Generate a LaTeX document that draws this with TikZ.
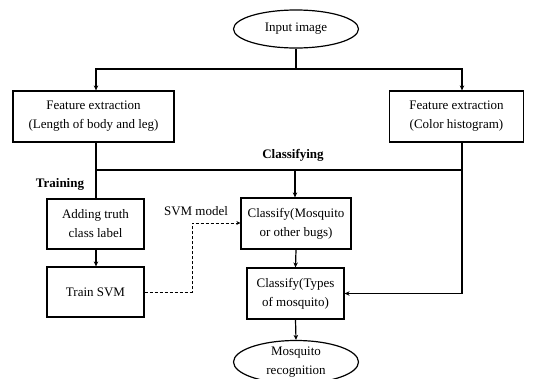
\documentclass[tikz,border=0pt]{standalone}
\usepackage{fontspec}
\setmainfont{Liberation Serif}
\usetikzlibrary{shapes.geometric,arrows.meta}
\begin{document}
\begin{tikzpicture}[x=1pt,y=-1pt,
  txt/.style={font=\fontsize{13}{19}\selectfont, align=center},
  box/.style={txt, draw, line width=1.2pt, inner sep=0pt},
  oval/.style={txt, draw, ellipse, line width=1.2pt, inner sep=0pt},
  link/.style={line width=1.2pt},
  arr/.style={link, -{Stealth[length=5pt,width=4.5pt]}},
  dashlink/.style={line width=1pt, dash pattern=on 3pt off 2pt, -{Stealth[length=4pt,width=4pt]}},
  head/.style={font=\fontsize{13}{15}\selectfont\bfseries}]
\useasboundingbox (0,0) rectangle (536,378);
\fill[white] (0,0) rectangle (536,378);

% nodes
\node[oval, minimum width=125pt, minimum height=38pt] (in) at (296,29) {Input image};
\node[box, minimum width=161pt, minimum height=51pt] (fl) at (93.5,116.5) {Feature extraction\\(Length of body and leg)};
\node[box, minimum width=134pt, minimum height=51pt] (fr) at (456.5,116.5) {Feature extraction\\(Color histogram)};
\node[head] (cls) at (293,155) {Classifying};
\node[head] (trn) at (60,184) {Training};
\node[box, minimum width=97pt, minimum height=50pt] (add) at (95.5,224) {Adding truth\\class label};
\node[box, minimum width=97pt, minimum height=50pt] (svm) at (95.5,292) {Train SVM};
\node[box, minimum width=110pt, minimum height=51pt] (cm) at (296,223.5) {Classify(Mosquito\\or other bugs)};
\node[box, minimum width=97pt, minimum height=51pt] (ct) at (295.5,293.5) {Classify(Types\\of mosquito)};
\node[oval, minimum width=125pt, minimum height=40pt] (out) at (296,362) {Mosquito\\recognition};
\node[txt] (model) at (196,211) {SVM model};

% junction points
\coordinate (jt) at (296,69);
\coordinate (jtl) at (96,69);
\coordinate (jtr) at (462,69);
\coordinate (jml) at (96,170);
\coordinate (jmc) at (295,170);
\coordinate (jmr) at (462,170);
\coordinate (jr) at (462,293.5);
\coordinate (d1) at (192,292);
\coordinate (d2) at (192,223);

% connectors
\draw[link] (in.south) -- (jt);
\draw[arr] (jt) -- (jtl) -- (jtl |- fl.north);
\draw[arr] (jt) -- (jtr) -- (jtr |- fr.north);
\draw[link] (jml |- fl.south) -- (jml |- add.north);
\draw[link] (jml) -- (jmr);
\draw[link] (jmr |- fr.south) -- (jmr);
\draw[arr] (jmc) -- (jmc |- cm.north);
\draw[arr] (jmr) -- (jr) -- (ct.east);
\draw[arr] (jml |- add.south) -- (jml |- svm.north);
\draw[arr] (cm.south) -- (ct.north);
\draw[arr] (ct.south) -- (out.north);
\draw[dashlink] (svm.east) -- (d1) -- (d2) -- (d2 -| cm.west);
\end{tikzpicture}
\end{document}
